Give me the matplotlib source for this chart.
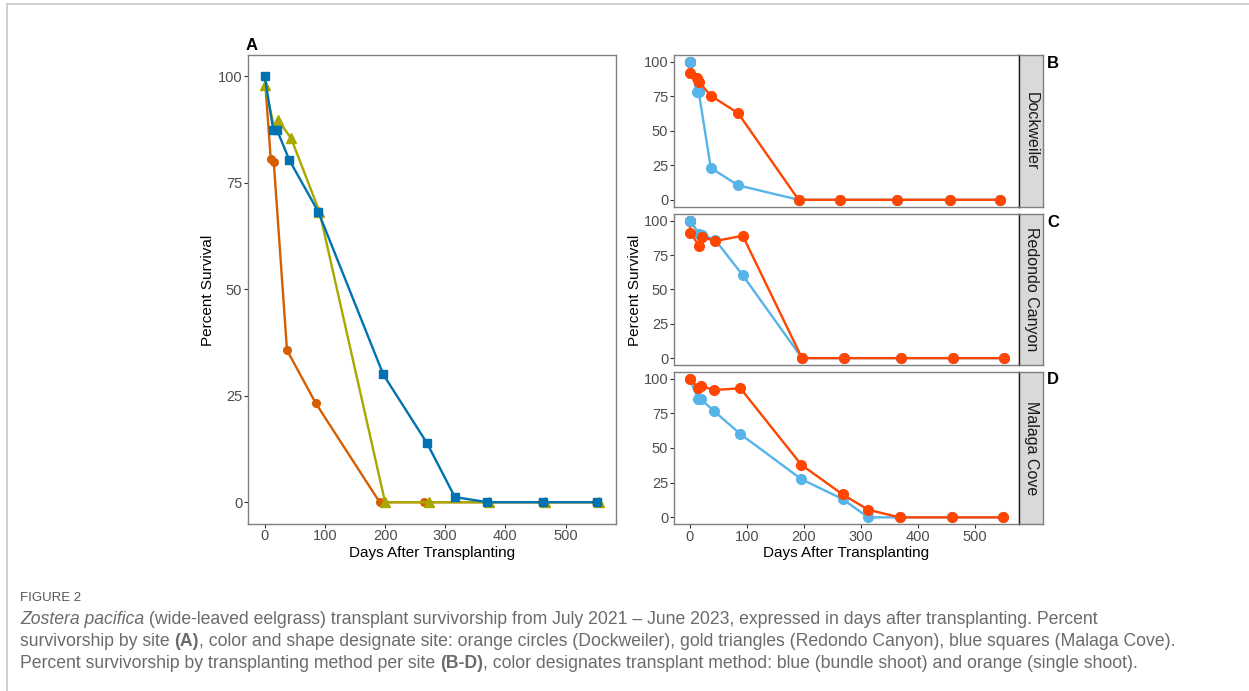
import matplotlib
matplotlib.use('Agg')
import matplotlib.pyplot as plt
from matplotlib.lines import Line2D
import numpy as np

plt.rcParams['font.family'] = ['Liberation Sans', 'DejaVu Sans']

# ---------------- data ----------------
# Panel A: survival by site
dock_days = [0, 10, 15, 37, 85, 191, 265, 369, 460, 551]
dock_surv = [100, 80.6, 79.9, 35.7, 23.2, 0, 0, 0, 0, 0]
redo_days = [0, 16, 22, 44, 91, 200, 273, 372, 465, 556]
redo_surv = [98, 87.8, 89.8, 85.4, 68.2, 0, 0, 0, 0, 0]
mala_days = [0, 14, 20, 41, 89, 197, 270, 316, 370, 462, 553]
mala_surv = [100, 87.5, 87.5, 80.3, 68.2, 30.0, 13.8, 1.2, 0, 0, 0]

# Panels B-D: survival by method (bundle = blue, single = orange)
b_days = [0, 1, 12, 16, 37, 85, 191, 263, 363, 456, 545]
b_bundle = [100, 100, 77.9, 77.9, 23.1, 10.5, 0, 0, 0, 0, 0]
b_single = [100, 92.1, 88.0, 85.6, 75.5, 62.8, 0, 0, 0, 0, 0]

c_days = [0, 1, 17, 22, 45, 93, 197, 271, 371, 462, 552]
c_bundle = [100, 100, 90.4, 90.0, 86.0, 60.4, 0, 0, 0, 0, 0]
c_single = [100, 91.3, 81.7, 88.2, 85.3, 89.2, 0, 0, 0, 0, 0]

d_days = [0, 15, 19, 42, 89, 196, 268, 313, 368, 460, 550]
d_bundle = [100, 85.3, 85.3, 76.9, 60.0, 27.5, 13.2, 0, 0, 0, 0]
d_single = [100, 93.3, 95.0, 91.8, 93.0, 37.8, 16.6, 5.5, 0, 0, 0]

sites = ['Dockweiler', 'Redondo Canyon', 'Malaga Cove']
panel_letters = ['B', 'C', 'D']
y_ticks = [0, 25, 50, 75, 100]
x_ticks = [0, 100, 200, 300, 400, 500]

# ---------------- style ----------------
W, H = 1249, 691
fig = plt.figure(figsize=(W / 100, H / 100), dpi=100)
tick_col = '#4D4D4D'
border_col = '#7F7F7F'
title_size = 11

def fx(px):
    return px / W

def fy(py):
    return 1 - py / H

def style_axes(ax):
    for s in ax.spines.values():
        s.set_color(border_col)
        s.set_linewidth(1.0)
    ax.tick_params(direction='out', length=2.6, width=0.8, color='#333333',
                   labelcolor=tick_col, labelsize=10.5, pad=1.5)
    ax.set_yticks(y_ticks)
    ax.set_xticks(x_ticks)

# outer frame lines (top and left)
fig.add_artist(Line2D([fx(7), 1], [fy(4), fy(4)], color='#C8C8C8', lw=1.2))
fig.add_artist(Line2D([fx(7), fx(7)], [fy(4), 0], color='#C8C8C8', lw=1.2))

# ---------------- panel A ----------------
axA = fig.add_axes([fx(248), fy(523.5), fx(616) - fx(248), fy(55) - fy(523.5)])
style_axes(axA)
axA.plot(dock_days, dock_surv, color='#D55E00', lw=1.7, marker='o', ms=5.5, zorder=3)
axA.plot(redo_days, redo_surv, color='#A8A800', lw=1.7, marker='^', ms=6.5, zorder=3)
axA.plot(mala_days, mala_surv, color='#0072B2', lw=1.7, marker='s', ms=5.5, zorder=4)
axA.set_xlim(-27.8, 583.8)
axA.set_ylim(-5, 105)
fig.text(fx(432), fy(553), 'Days After Transplanting', fontsize=title_size,
         ha='center', va='center')
fig.text(fx(208), fy(290), 'Percent Survival', rotation=90, fontsize=title_size,
         ha='center', va='center')
fig.text(fx(246), fy(45), 'A', fontsize=12, fontweight='bold', va='center', ha='left')

# ---------------- panels B-D ----------------
rows = [(55, 206.7, b_days, b_bundle, b_single),
        (214, 365, c_days, c_bundle, c_single),
        (371.7, 524.3, d_days, d_bundle, d_single)]
for i, (top, bot, days, bundle, single) in enumerate(rows):
    ax = fig.add_axes([fx(674), fy(bot), fx(1019) - fx(674), fy(top) - fy(bot)])
    style_axes(ax)
    ax.plot(days, bundle, color='#56B4E9', lw=1.7, marker='o', ms=7, zorder=3)
    ax.plot(days, single, color='#FF4500', lw=1.7, marker='o', ms=7, zorder=4)
    if i < 2:
        # starting bundle point sits on top in these two sites
        ax.plot(days[:1], bundle[:1], color='#56B4E9', marker='o', ms=7, zorder=5)
        ax.tick_params(axis='x', length=0, labelbottom=False)
    ax.set_xlim(-27.5, 577.5)
    ax.set_ylim(-5, 105)
    # strip
    sax = fig.add_axes([fx(1019), fy(bot), fx(1043) - fx(1019), fy(top) - fy(bot)])
    sax.set_facecolor('#D9D9D9')
    sax.set_xticks([])
    sax.set_yticks([])
    for s in sax.spines.values():
        s.set_color(border_col)
        s.set_linewidth(1.0)
    sax.spines['left'].set_color('#1A1A1A')
    sax.text(0.5, 0.5, sites[i], rotation=-90, ha='center', va='center',
             fontsize=11.5, color='#1A1A1A', transform=sax.transAxes)
    fig.text(fx(1047), fy(top + 8), panel_letters[i], fontsize=12,
             fontweight='bold', va='center', ha='left')

fig.text(fx(846.5), fy(553), 'Days After Transplanting', fontsize=title_size,
         ha='center', va='center')
fig.text(fx(635), fy(290), 'Percent Survival', rotation=90, fontsize=title_size,
         ha='center', va='center')

# ---------------- caption ----------------
cap_font = ['Liberation Sans Narrow', 'Liberation Sans', 'DejaVu Sans']
cap_col = '#6B6B6B'
fig.text(fx(20), fy(598), 'FIGURE 2', fontsize=9.5, color='#555555',
         family=cap_font, va='center', ha='left')

caption = [
    [('Zostera pacifica', 'italic', 'normal'),
     (' (wide-leaved eelgrass) transplant survivorship from July 2021 \u2013 June 2023, expressed in days after transplanting. Percent', 'normal', 'normal')],
    [('survivorship by site ', 'normal', 'normal'), ('(A)', 'normal', 'bold'),
     (', color and shape designate site: orange circles (Dockweiler), gold triangles (Redondo Canyon), blue squares (Malaga Cove).', 'normal', 'normal')],
    [('Percent survivorship by transplanting method per site ', 'normal', 'normal'), ('(B-D)', 'normal', 'bold'),
     (', color designates transplant method: blue (bundle shoot) and orange (single shoot).', 'normal', 'normal')],
]
line_y = [620, 641.5, 663]
renderer = fig.canvas.get_renderer()
for parts, yy in zip(caption, line_y):
    x0 = 20
    for txt, style, weight in parts:
        t = fig.text(fx(x0), fy(yy), txt, fontsize=12.7, color=cap_col, family=cap_font,
                     style=style, fontweight=weight, va='center', ha='left')
        bb = t.get_window_extent(renderer=renderer)
        x0 += bb.width

fig.savefig('out.png', dpi=100)
